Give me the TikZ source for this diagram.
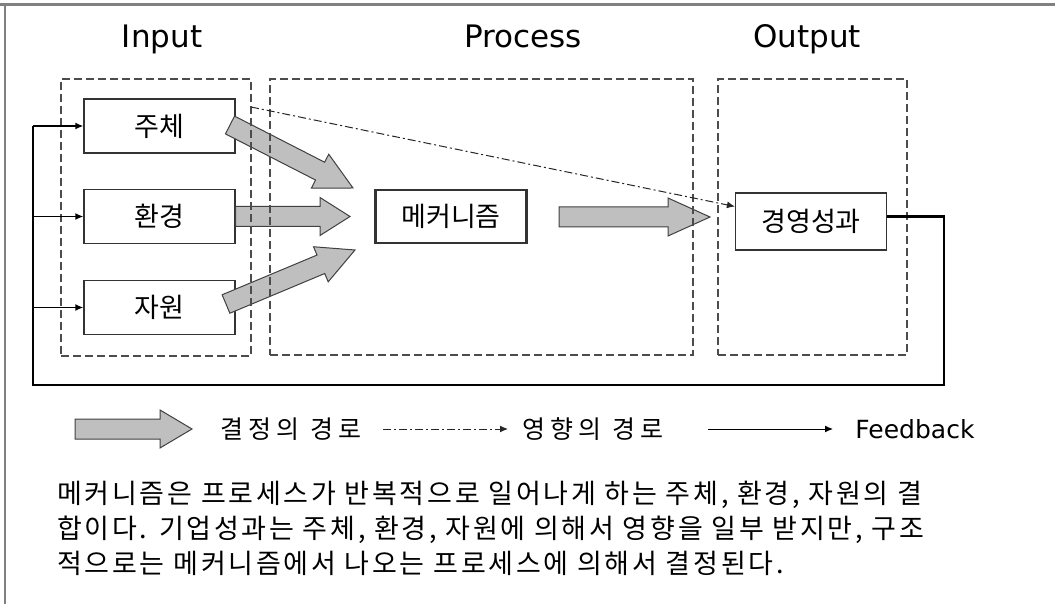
\documentclass[tikz,border=0pt]{standalone}
\usepackage{fontspec}
\setmainfont{Noto Sans CJK KR}
\newfontfamily\latinfont{DejaVu Sans}
\newfontfamily\legfont[LetterSpace=20]{Noto Sans CJK KR}
\newfontfamily\parafont[LetterSpace=10]{Noto Sans CJK KR}
\usetikzlibrary{positioning,arrows.meta,calc}

% broad grey arrow: tail, tip, head length
\newcommand{\decarrow}[3]{%
  \coordinate (hb) at ($(#2)!#3!(#1)$);
  \draw[decision] ($(#1)!5pt!90:(#2)$) -- ($(hb)!5pt!90:(#2)$)
    -- ($(hb)!9.5pt!90:(#2)$) -- (#2) -- ($(hb)!9.5pt!-90:(#2)$)
    -- ($(hb)!5pt!-90:(#2)$) -- ($(#1)!5pt!-90:(#2)$) -- cycle;}

\begin{document}
\begin{tikzpicture}[
    x=0.5pt, y=-0.5pt,
    >={Latex[length=4pt,width=3.5pt]},
    itembox/.style={draw=black!80, line width=0.6pt, minimum width=75.5pt, minimum height=27pt, inner sep=0pt, font=\fontsize{13.5}{16}\selectfont},
    stage/.style={draw=black!70, line width=0.6pt, dash pattern=on 4pt off 2pt, inner sep=0pt},
    decision/.style={draw=black!75, line width=0.5pt, fill=black!25},
    influence/.style={draw=black!85, line width=0.5pt, dash pattern=on 4pt off 1.5pt on 1pt off 1.5pt, ->},
    feedback/.style={draw=black, line width=1.4pt},
    branch/.style={draw=black, line width=0.9pt, ->},
    colhead/.style={font=\latinfont\fontsize{15.5}{18}\selectfont, anchor=base, inner sep=0pt},
    legtext/.style={font=\legfont\fontsize{12.5}{14}\selectfont, anchor=west, inner sep=0pt},
    para/.style={font=\parafont\fontsize{13.5}{17.5}\selectfont, align=left, inner sep=0pt},
    frame/.style={draw=black!50},
  ]
    \useasboundingbox (0,0) rectangle (1055,604);
    \draw[frame, line width=1.5pt] (0,4.5) -- (1055,4.5);
    \draw[frame, line width=1pt] (5,4.5) -- (5,604);

    \node[colhead] (hin) at (162,48) {Input};
    \node[colhead] (hproc) at (523,48) {Process};
    \node[colhead] (hout) at (807,48) {Output};

    \node[itembox] (subj) at (159.5,126) {주체};
    \node[itembox] (env) at (159.5,216.5) {환경};
    \node[itembox] (res) at (159.5,307.5) {자원};
    \node[itembox, line width=1.4pt, minimum height=26.5pt] (mech) at (451,216.5) {메커니즘};
    \node[itembox, minimum height=28.5pt] (perf) at (811,221.5) {경영성과};

    % decision paths
    \coordinate (t1) at (230,125);  \coordinate (p1) at (353,188);
    \coordinate (p2) at (350,216.5);
    \coordinate (t3) at (226,304);  \coordinate (p3) at (355,250);
    \coordinate (t4) at (559,217);  \coordinate (p4) at (710,217);
    \decarrow{t1}{p1}{18.5pt}
    \decarrow{env.east}{p2}{15pt}
    \decarrow{t3}{p3}{18.5pt}
    \decarrow{t4}{p4}{21pt}

    \node[stage, minimum width=95pt, minimum height=138.5pt] (inbox) at (156,217.5) {};
    \node[stage, minimum width=211.5pt, minimum height=138pt] (procbox) at (481.5,217) {};
    \node[stage, minimum width=94.5pt, minimum height=138pt] (outbox) at (812.5,217) {};

    % influence path
    \coordinate (inf) at (251,107);
    \draw[influence] (inf) -- ([yshift=7.5pt]perf.west);

    % feedback loop
    \coordinate (fbR) at (944,385);
    \coordinate (fbL) at (33,385);
    \draw[feedback] ([yshift=2.5pt]perf.east) -| (fbR) -- (fbL) -- (fbL |- subj.west);
    \foreach \b in {subj,env,res}
      \draw[branch] (fbL |- \b.west) -- (\b.west);

    % legend
    \coordinate (lg1) at (75,429);  \coordinate (lg1e) at (192,429);
    \decarrow{lg1}{lg1e}{16pt}
    \node[legtext] (lgdec) at (220,429) {결정의 경로};
    \coordinate (lg2) at (383,429);  \coordinate (lg2e) at (508,429);
    \draw[influence] (lg2) -- (lg2e);
    \node[legtext] (lginf) at (522,429) {영향의 경로};
    \coordinate (lg3) at (708,429);  \coordinate (lg3e) at (833,429);
    \draw[line width=0.5pt, ->] (lg3) -- (lg3e);
    \node[legtext, font=\latinfont\fontsize{12.5}{14}\selectfont] (lgfb) at (855,429) {Feedback};

    \node[para, anchor=north west] (note) at (57,481) {메커니즘은 프로세스가 반복적으로 일어나게 하는 주체, 환경, 자원의 결\\
      합이다. 기업성과는 주체, 환경, 자원에 의해서 영향을 일부 받지만, 구조\\
      적으로는 메커니즘에서 나오는 프로세스에 의해서 결정된다.};
\end{tikzpicture}
\end{document}
